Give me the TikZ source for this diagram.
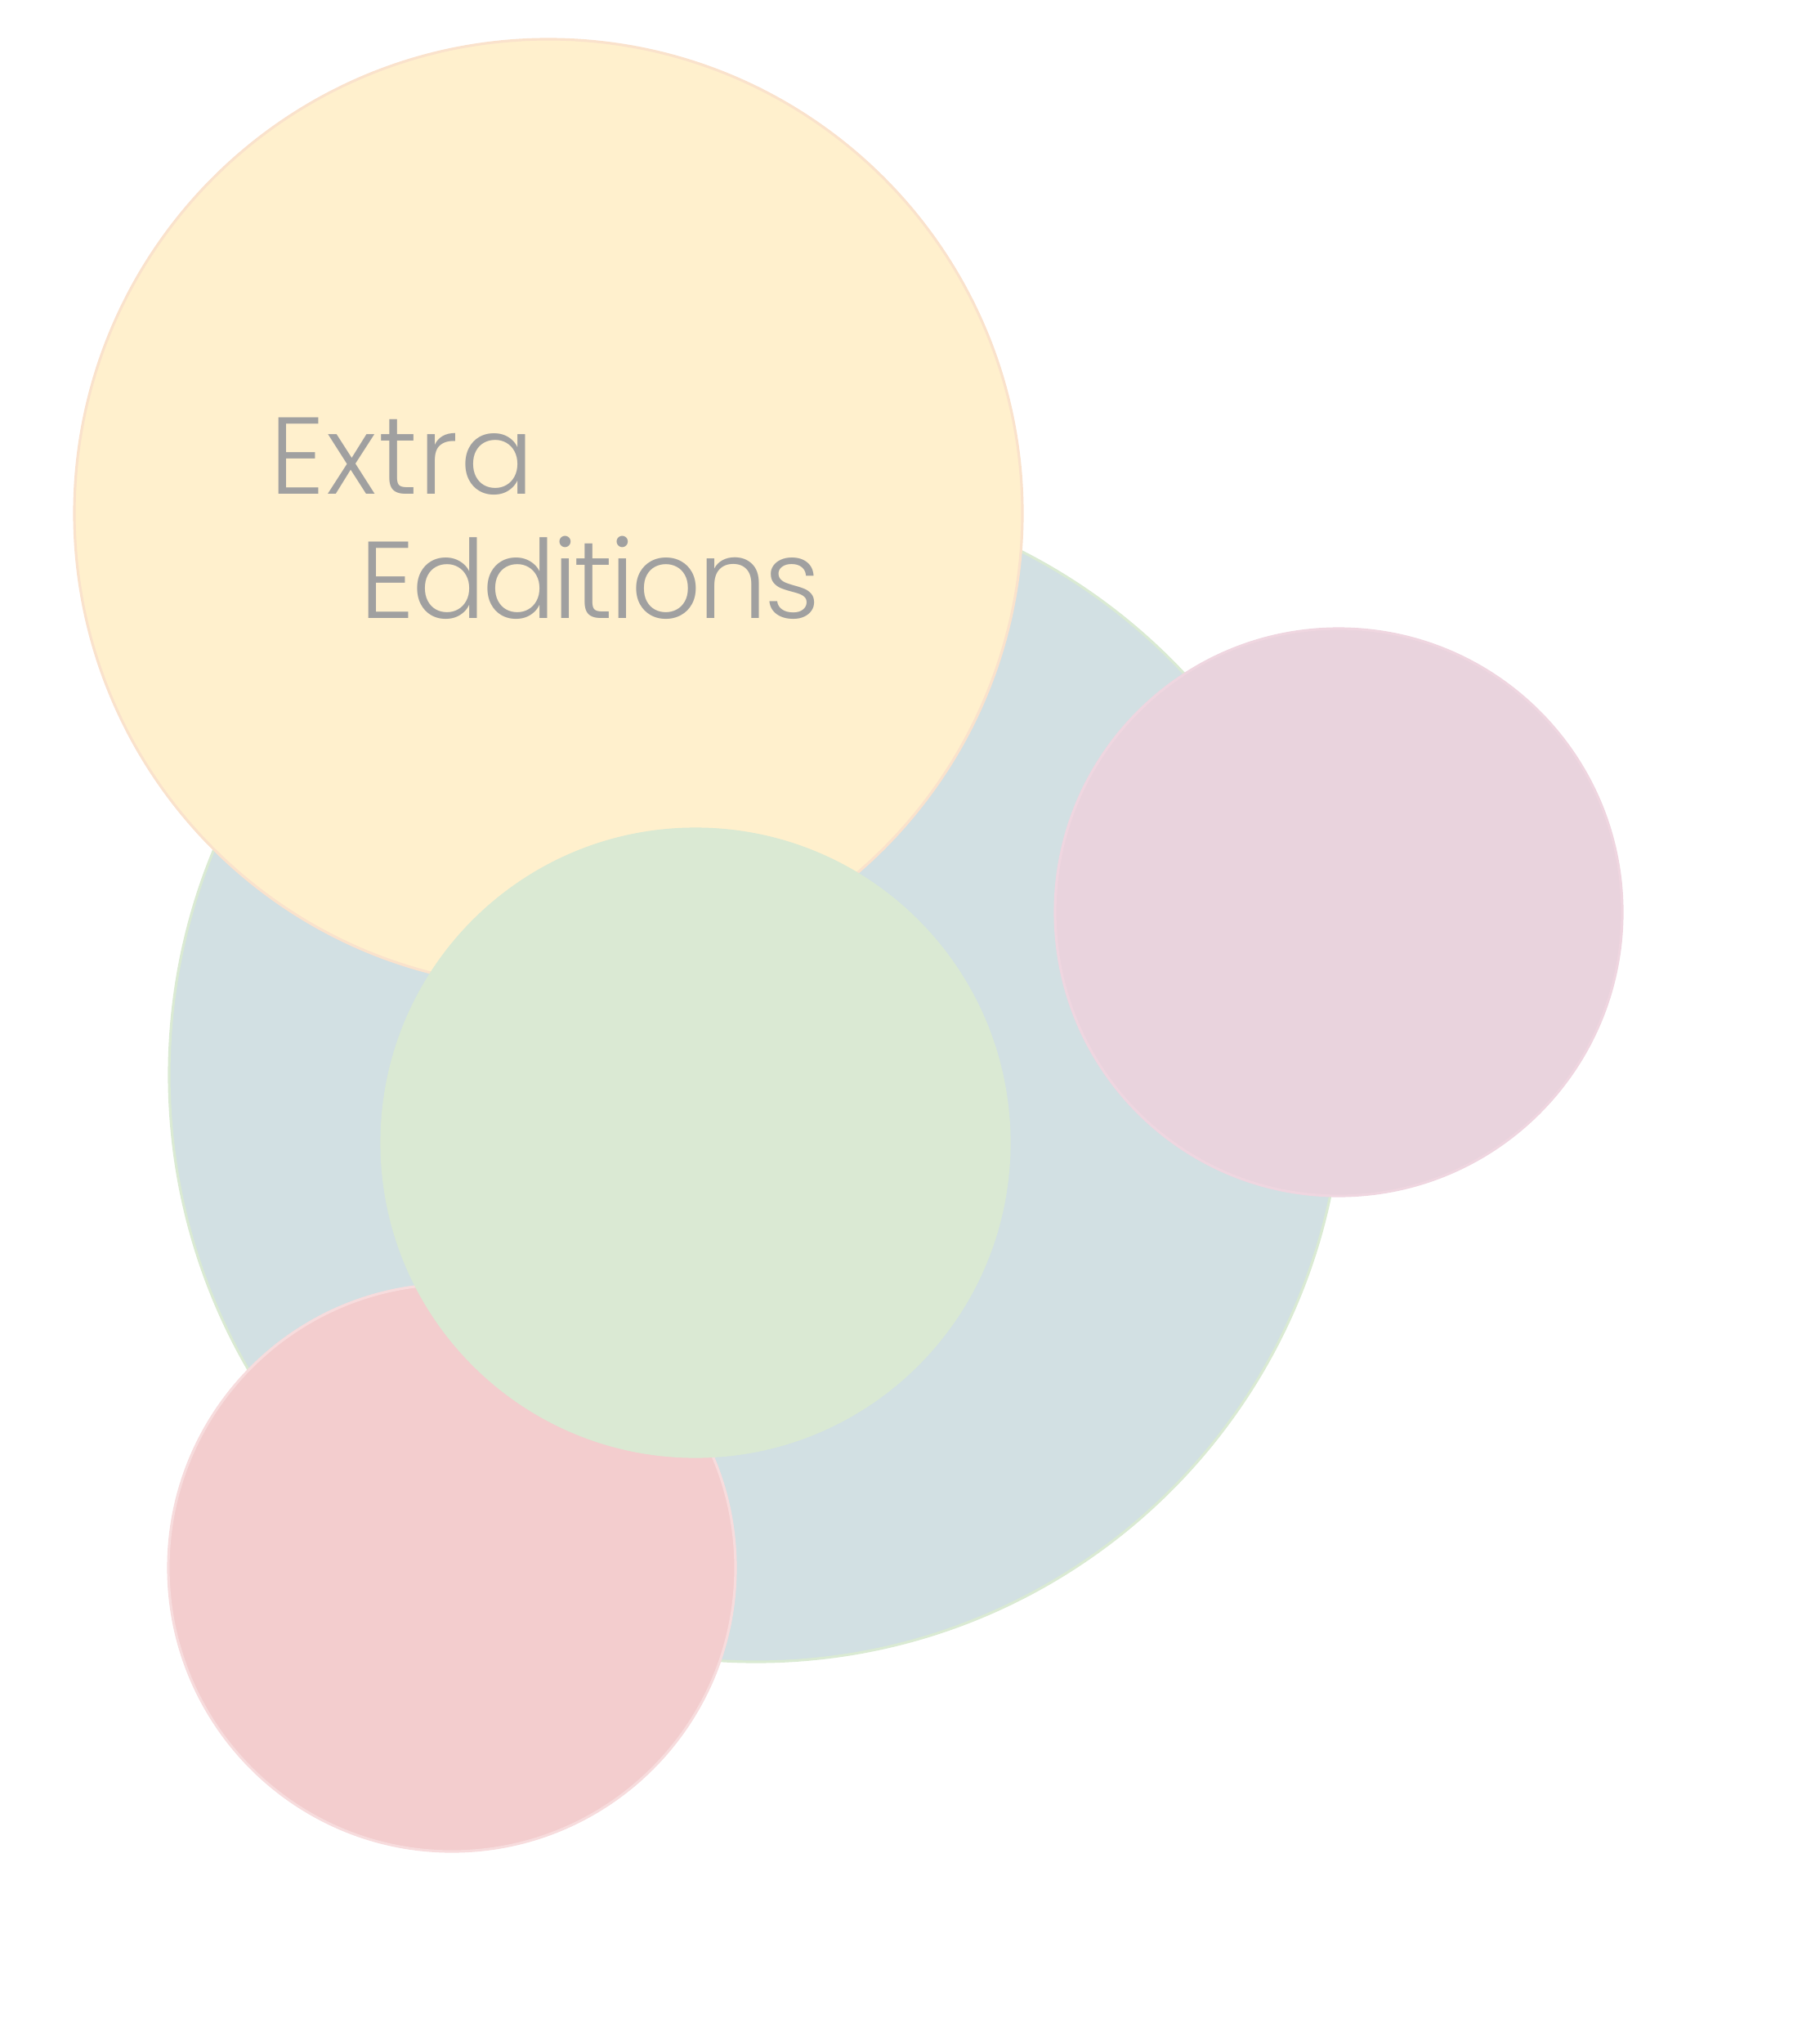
\documentclass[tikz,border=0pt]{standalone}
\usepackage{fontspec}
\setmainfont{Poppins}[UprightFont=* Light]
\usepackage{tikz}
\usetikzlibrary{positioning}

\definecolor{bubbleBlue}{HTML}{D2E0E3}
\definecolor{bubbleYellow}{HTML}{FFF0CD}
\definecolor{bubbleGreen}{HTML}{DAE9D3}
\definecolor{bubbleMauve}{HTML}{E9D3DD}
\definecolor{bubbleRose}{HTML}{F3CDCE}
\definecolor{rimPeach}{HTML}{FAE2CC}
\definecolor{rimGreen}{HTML}{DAEAD3}
\definecolor{rimPink}{HTML}{EFD6E0}
\definecolor{labelGray}{HTML}{A0A0A0}

\tikzset{
  bubble/.style={line width=0.9pt},
  bubbletext/.style={anchor=base west, inner sep=0pt, text=labelGray,
    font=\fontsize{38}{46}\selectfont}
}

\begin{document}
\begin{tikzpicture}
  \useasboundingbox (0,0) rectangle (22.26,-24.92);

  % Large circle behind everything
  \filldraw[bubble, fill=bubbleBlue, draw=rimGreen] (9.25,-13.15) circle (7.18);

  % Top circle
  \filldraw[bubble, fill=bubbleYellow, draw=rimPeach] (6.71,-6.28) circle (5.80);

  % Right circle
  \filldraw[bubble, fill=bubbleMauve, draw=rimPink] (16.38,-11.16) circle (3.47);

  % Lower left circle
  \filldraw[bubble, fill=bubbleRose, draw=bubbleRose!70!white] (5.53,-19.18) circle (3.47);

  % Centre circle
  \filldraw[bubble, fill=bubbleGreen, draw=bubbleGreen] (8.51,-13.98) circle (3.84);

  % Label
  \node[bubbletext] (extra) at (3.30,-6.04) {\addfontfeatures{LetterSpace=1.5}Extra};
  \node[bubbletext] (editions) at (4.40,-7.56) {\addfontfeatures{LetterSpace=-3}Edditions};

\end{tikzpicture}
\end{document}
